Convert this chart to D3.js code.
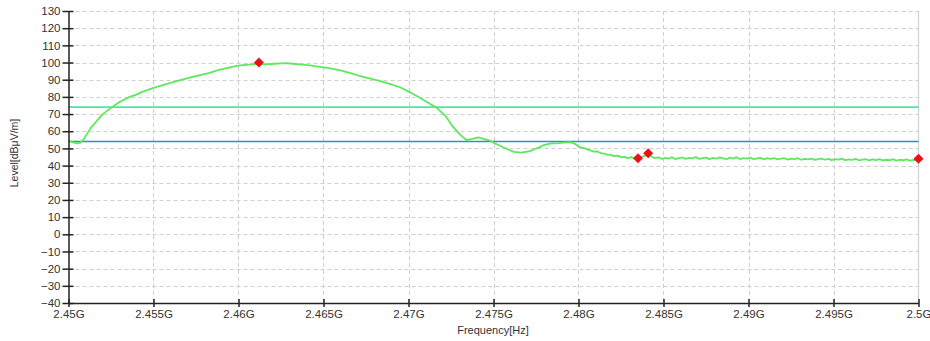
<!DOCTYPE html>
<html><head><meta charset="utf-8">
<script src="https://cdn.jsdelivr.net/npm/d3@7/dist/d3.min.js"></script>
<style>
html,body{margin:0;padding:0;background:#fff;}
svg{display:block;font-family:"Liberation Sans",Arial,sans-serif;}
</style></head>
<body><svg id="chart" width="930" height="341"></svg>
<script>
// ---- data ----
const xTicks = [2.45,2.455,2.46,2.465,2.47,2.475,2.48,2.485,2.49,2.495,2.5];
const xTickLabels = ["2.45G","2.455G","2.46G","2.465G","2.47G","2.475G","2.48G","2.485G","2.49G","2.495G","2.5G"];
const yTicks = [130,120,110,100,90,80,70,60,50,40,30,20,10,0,-10,-20,-30,-40];
const limitGreen = 74;
const limitBlue = 54;
// trace: [frequency GHz, level dBuV/m]
const traceMain = [
 [2.4500,54.8],[2.4502,53.6],[2.4505,52.9],[2.4507,53.4],[2.4509,55.4],[2.4511,58.6],
 [2.4513,61.8],[2.4517,66.4],[2.4520,69.8],[2.4525,73.6],[2.4530,77.0],[2.4536,80.0],
 [2.4540,81.3],[2.4543,82.8],[2.4550,85.2],[2.4557,87.3],[2.4562,88.7],[2.4568,90.3],
 [2.4573,91.6],[2.4578,92.8],[2.4583,94.0],[2.4588,95.6],[2.4593,96.8],[2.4597,97.6],
 [2.4601,98.3],[2.4606,98.8],[2.4611,99.3],[2.4616,98.9],[2.4621,99.3],[2.4625,99.5],
 [2.4628,99.6],[2.4632,99.3],[2.4636,98.9],[2.4642,98.3],[2.4648,97.5],[2.4654,96.6],
 [2.4660,95.4],[2.4666,93.8],[2.4671,92.3],[2.4677,90.8],[2.4683,89.3],[2.4689,87.6],
 [2.4695,85.6],[2.4701,82.6],[2.4707,79.3],[2.4712,76.3],[2.4717,73.3],[2.4722,68.6],
 [2.4726,62.8],[2.4730,58.3],[2.4734,54.9],[2.4737,55.4],[2.4741,56.4],[2.4745,55.3],
 [2.4748,54.6],[2.4750,53.3],[2.4753,52.0],[2.4756,50.5],[2.4759,49.2],[2.4762,48.0],
 [2.4764,47.8],[2.4766,47.5],[2.4768,47.9],[2.4770,48.2],[2.4772,48.6],[2.4774,49.5],
 [2.4777,50.6],[2.4779,51.7],[2.4782,52.5],[2.4784,53.0],[2.4787,52.9],[2.4791,53.4],
 [2.4795,53.7],[2.4798,52.6],[2.4801,50.6],[2.4803,50.3],[2.4805,49.4],[2.4807,48.9],
 [2.4809,48.1],[2.4811,48.3],[2.4813,47.2],[2.4815,47.0],[2.4817,46.3],[2.4819,46.2],
 [2.4821,45.5],[2.4823,45.8],[2.4825,44.9],[2.4827,45.1],[2.4829,44.4]
];
const traceTail = [
 [2.4831,44.9],[2.4833,44.0],[2.4835,44.3],[2.4837,44.9],[2.4839,45.6],[2.4841,47.0],
 [2.4843,45.2],[2.4845,44.3],[2.4847,44.8],[2.4849,43.9],[2.4851,44.5],[2.4853,44.1],
 [2.4855,44.9],[2.4857,43.8],[2.4859,44.4],[2.4861,44.7],[2.4863,43.9],[2.4865,44.5],
 [2.4867,44.2],[2.4869,45.0],[2.4871,43.9],[2.4873,44.3],[2.4875,44.6],[2.4877,43.8],
 [2.4879,44.5],[2.4881,44.0],[2.4883,44.8],[2.4885,44.2],[2.4887,43.7],[2.4889,44.6],
 [2.4891,44.1],[2.4893,44.9],[2.4895,43.8],[2.4897,44.3],[2.4899,44.0],[2.4901,44.6],
 [2.4903,43.7],[2.4905,44.2],[2.4907,44.5],[2.4909,43.6],[2.4911,44.3],[2.4913,43.9],
 [2.4915,44.4],[2.4917,43.6],[2.4919,44.1],[2.4921,44.4],[2.4923,43.5],[2.4925,44.0],
 [2.4927,43.7],[2.4929,44.3],[2.4931,43.4],[2.4933,43.9],[2.4935,43.6],[2.4937,44.1],
 [2.4939,43.3],[2.4941,43.8],[2.4943,44.0],[2.4945,43.4],[2.4947,43.9],[2.4949,43.2],
 [2.4951,43.7],[2.4953,43.5],[2.4955,44.0],[2.4957,43.2],[2.4959,43.6],[2.4961,43.3],
 [2.4963,43.9],[2.4965,43.1],[2.4967,43.5],[2.4969,43.7],[2.4971,43.0],[2.4973,43.6],
 [2.4975,43.2],[2.4977,43.8],[2.4979,43.0],[2.4981,43.4],[2.4983,43.1],[2.4985,43.7],
 [2.4987,42.9],[2.4989,43.4],[2.4991,43.1],[2.4993,43.6],[2.4995,42.9],[2.4997,43.3],
 [2.4999,43.0],[2.5000,43.4]
];
const markers = [[2.4612,100.0],[2.4835,44.3],[2.4841,47.2],[2.5000,44.0]];

// ---- chart ----
const svg = d3.select("#chart");
const W = 930, H = 341;
const m = {left:68.5, right:11.5, top:11, bottom:38};
const x = d3.scaleLinear().domain([2.45,2.5]).range([m.left, W-m.right]);
const y = d3.scaleLinear().domain([-40,130]).range([H-m.bottom, m.top]);

// grid
const grid = svg.append("g");
grid.selectAll("line.h").data(yTicks).join("line")
  .attr("x1", m.left).attr("x2", W-m.right)
  .attr("y1", d=>Math.round(y(d))+0.5).attr("y2", d=>Math.round(y(d))+0.5)
  .attr("stroke","#cfcfcf").attr("stroke-dasharray","4,3");
grid.selectAll("line.v").data(xTicks.slice(1,-1)).join("line")
  .attr("y1", m.top).attr("y2", H-m.bottom)
  .attr("x1", d=>Math.round(x(d))+0.5).attr("x2", d=>Math.round(x(d))+0.5)
  .attr("stroke","#cfcfcf").attr("stroke-dasharray","4,3");
// right border
svg.append("line").attr("x1", W-m.right).attr("x2", W-m.right)
  .attr("y1", m.top).attr("y2", H-m.bottom).attr("stroke","#d0d0d0").attr("stroke-width",1.2);

// limit lines
svg.append("line").attr("x1", m.left).attr("x2", W-m.right)
  .attr("y1", y(limitGreen)).attr("y2", y(limitGreen))
  .attr("stroke","#4fe6a0").attr("stroke-width",1.7);
svg.append("line").attr("x1", m.left).attr("x2", W-m.right)
  .attr("y1", y(limitBlue)).attr("y2", y(limitBlue))
  .attr("stroke","#2b8fd0").attr("stroke-width",1.4);

// trace
const trace = traceMain.concat(traceTail);
const line = d3.line().x(d=>x(d[0])).y(d=>y(d[1])).curve(d3.curveLinear);
svg.append("path").datum(trace).attr("d", line)
  .attr("fill","none").attr("stroke","#5ee85e").attr("stroke-width",1.8)
  .attr("stroke-linejoin","round");

// axes
const yAxis = d3.axisLeft(y).tickValues(yTicks).tickSizeInner(5).tickSizeOuter(0).tickPadding(3);
const gy = svg.append("g").attr("transform",`translate(${m.left},0)`).call(yAxis);
gy.select(".domain").attr("stroke","#222").attr("stroke-width",1.5);
gy.selectAll(".tick line").attr("x2",5).attr("x1",-6).attr("stroke","#222").attr("stroke-width",1.5);
gy.selectAll(".tick text").attr("x",-8).attr("fill","#333").attr("font-size",11.5);

const xAxis = d3.axisBottom(x).tickValues(xTicks).tickFormat((d,i)=>xTickLabels[i]).tickSizeInner(4).tickSizeOuter(0).tickPadding(3);
const gx = svg.append("g").attr("transform",`translate(0,${H-m.bottom})`).call(xAxis);
gx.select(".domain").attr("stroke","#222").attr("stroke-width",1.5);
gx.selectAll(".tick line").attr("y1",-4).attr("y2",4).attr("stroke","#222").attr("stroke-width",1.5);
gx.selectAll(".tick text").attr("y",7).attr("fill","#333").attr("font-size",11.5);
gy.attr("font-family",null); gx.attr("font-family",null);

// axis titles
svg.append("text").attr("x", 493).attr("y", 334).attr("text-anchor","middle")
  .attr("font-size",11).attr("fill","#333").text("Frequency[Hz]");
svg.append("text").attr("transform","translate(18,153) rotate(-90)").attr("text-anchor","middle")
  .attr("font-size",10.5).attr("fill","#333").text("Level[dBμV/m]");

// markers (rotated squares)
svg.selectAll("path.mk").data(markers).join("path")
  .attr("d", d3.symbol().type(d3.symbolSquare).size(50))
  .attr("transform", d=>`translate(${x(d[0])},${y(d[1])}) rotate(45)`)
  .attr("fill","#e8101a");
</script></body></html>
